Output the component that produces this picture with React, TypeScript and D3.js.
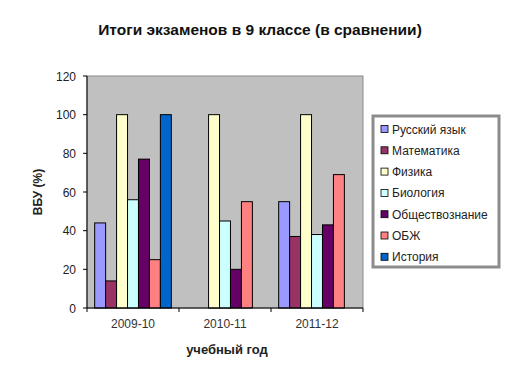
import React from "react";
import * as d3 from "d3";

const categories = ["2009-10", "2010-11", "2011-12"];
const seriesNames = ["Русский язык", "Математика", "Физика", "Биология", "Обществознание", "ОБЖ", "История"];
const seriesColors = ["#9999FF", "#993366", "#FFFFCC", "#CCFFFF", "#660066", "#FF8080", "#0066CC"];
const russian = [44, 0, 55];
const math = [14, 0, 37];
const physics = [100, 100, 100];
const biology = [56, 45, 38];
const social = [77, 20, 43];
const obzh = [25, 55, 69];
const history = [100, 0, 0];
const yTicks = [0, 20, 40, 60, 80, 100, 120];

const seriesValues = [russian, math, physics, biology, social, obzh, history];

const W = 532, H = 370;
const plot = { left: 87, top: 76, right: 363, bottom: 308 };

export default function App() {
  const x0 = d3.scaleBand().domain(categories).range([plot.left, plot.right]).paddingInner(0).paddingOuter(0);
  const x1 = d3.scaleBand().domain(seriesNames).range([0, x0.bandwidth()]).paddingInner(0).paddingOuter(0.7);
  const y = d3.scaleLinear().domain([0, 120]).range([plot.bottom, plot.top]);
  const font = "Liberation Sans, Arial, sans-serif";
  const boundaries = [plot.left, ...categories.map((c) => (x0(c) as number) + x0.bandwidth())];
  return (
    <svg width={W} height={H} style={{ position: "absolute", left: 0, top: 0, background: "#fff" }} fontFamily={font}>
      <rect x={0} y={0} width={W} height={H} fill="#fff" />
      <text x={260} y={35} textAnchor="middle" fontSize={15.5} fontWeight="bold" fill="#111">
        Итоги экзаменов в 9 классе (в сравнении)
      </text>
      <rect x={plot.left} y={plot.top} width={plot.right - plot.left} height={plot.bottom - plot.top} fill="#C0C0C0" stroke="#8a8a8a" strokeWidth={1} />
      {seriesValues.map((vals, si) =>
        categories.map((c, ci) => {
          const v = vals[ci];
          if (!v) return null;
          const bx = (x0(c) as number) + (x1(seriesNames[si]) as number);
          return (
            <rect key={si + "-" + ci} x={bx} y={y(v)} width={x1.bandwidth()} height={plot.bottom - y(v)}
              fill={seriesColors[si]} stroke="#000" strokeWidth={1} />
          );
        })
      )}
      <line x1={plot.left} x2={plot.left} y1={plot.top} y2={plot.bottom} stroke="#000" />
      <line x1={plot.left} x2={plot.right} y1={plot.bottom} y2={plot.bottom} stroke="#000" />
      {yTicks.map((t) => (
        <g key={t}>
          <line x1={plot.left - 4} x2={plot.left} y1={y(t)} y2={y(t)} stroke="#000" />
          <text x={plot.left - 11} y={y(t) + 4.5} textAnchor="end" fontSize={12} fill="#222">{t}</text>
        </g>
      ))}
      {boundaries.map((b, i) => (
        <line key={i} x1={b} x2={b} y1={plot.bottom} y2={plot.bottom + 4} stroke="#000" />
      ))}
      {categories.map((c) => (
        <text key={c} x={(x0(c) as number) + x0.bandwidth() / 2} y={328} textAnchor="middle" fontSize={12} fill="#333">{c}</text>
      ))}
      <text x={227} y={354} textAnchor="middle" fontSize={13} fontWeight="bold" fill="#222">учебный год</text>
      <text transform={`translate(42,192) rotate(-90)`} textAnchor="middle" fontSize={12} fontWeight="bold" fill="#222">ВБУ (%)</text>
      <rect x={373} y={116} width={126} height={151} fill="#fff" stroke="#8c8c8c" strokeWidth={3} />
      {seriesNames.map((n, i) => {
        const ly = 129 + i * 21.3;
        return (
          <g key={n}>
            <rect x={381} y={ly - 3.5} width={7} height={7} fill={seriesColors[i]} stroke="#000" strokeWidth={0.8} />
            <text x={392} y={ly + 4.5} fontSize={12} fill="#222">{n}</text>
          </g>
        );
      })}
    </svg>
  );
}
